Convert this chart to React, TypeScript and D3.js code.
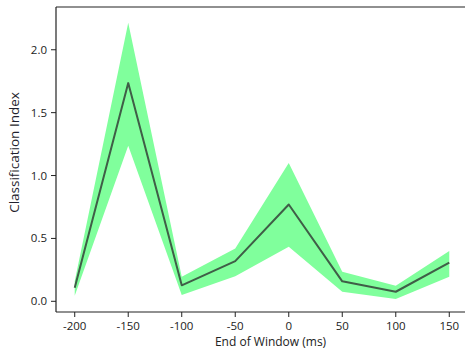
import React from 'react';
import * as d3 from 'd3';

// window end times (ms)
const windowEnds = [-200, -150, -100, -50, 0, 50, 100, 150];
// mean classification index
const meanIndex = [0.108, 1.735, 0.127, 0.32, 0.77, 0.159, 0.076, 0.307];
// shaded band, lower and upper
const lowerBand = [0.045, 1.237, 0.05, 0.2, 0.434, 0.076, 0.018, 0.196];
const upperBand = [0.16, 2.215, 0.196, 0.42, 1.1, 0.235, 0.124, 0.4];

const xTicks = [-200, -150, -100, -50, 0, 50, 100, 150];
const yTicks = [0, 0.5, 1.0, 1.5, 2.0];

const W = 465;
const H = 354;
const margin = { top: 7, right: -3, bottom: 42, left: 56 };

export default function App() {
  const innerW = W - margin.left - margin.right;
  const innerH = H - margin.top - margin.bottom;

  const x = d3.scaleLinear().domain([-217.5, 167.5]).range([0, innerW]);
  const y = d3.scaleLinear().domain([-0.085, 2.34]).range([innerH, 0]);

  const rows = windowEnds.map((t, i) => ({ t, m: meanIndex[i], lo: lowerBand[i], hi: upperBand[i] }));

  const area = d3.area<any>()
    .x(d => x(d.t))
    .y0(d => y(d.lo))
    .y1(d => y(d.hi));

  const line = d3.line<any>()
    .x(d => x(d.t))
    .y(d => y(d.m));

  const font = "'Open Sans', 'DejaVu Sans', sans-serif";

  return (
    <svg width={W} height={H} style={{ position: 'absolute', left: 0, top: 0, background: '#fff' }}>
      <g transform={`translate(${margin.left},${margin.top})`}>
        <path d={area(rows) || ''} fill="#80ff9c" stroke="none" />
        <path d={line(rows) || ''} fill="none" stroke="#3f5e47" strokeWidth={2} strokeLinejoin="round" />

        {/* frame */}
        <line x1={0} x2={0} y1={0} y2={innerH} stroke="#222" strokeWidth={1.2} />
        <line x1={0} x2={innerW} y1={innerH} y2={innerH} stroke="#222" strokeWidth={1.2} />
        <line x1={0} x2={innerW} y1={0} y2={0} stroke="#222" strokeWidth={1.2} />
        <line x1={innerW} x2={innerW} y1={0} y2={innerH} stroke="#222" strokeWidth={1.2} />

        {yTicks.map(v => (
          <g key={v} transform={`translate(0,${y(v)})`}>
            <line x1={-5} x2={0} stroke="#222" />
            <text x={-9} dy="0.35em" textAnchor="end" fontSize={11.5} fontFamily={font} fill="#222">
              {v.toFixed(1)}
            </text>
          </g>
        ))}

        {xTicks.map(v => (
          <g key={v} transform={`translate(${x(v)},${innerH})`}>
            <line y1={0} y2={5} stroke="#222" />
            <text y={18} textAnchor="middle" fontSize={11.5} fontFamily={font} fill="#222">
              {v}
            </text>
          </g>
        ))}

        <text x={x(-17)} y={innerH + 34} textAnchor="middle" fontSize={12} fontFamily={font} fill="#222">
          End of Window (ms)
        </text>
        <text
          transform={`translate(${-37},${innerH / 2 - 7}) rotate(-90)`}
          textAnchor="middle"
          fontSize={13.5}
          fontFamily={font}
          fill="#1f1f2e"
        >
          Classification Index
        </text>
      </g>
    </svg>
  );
}
